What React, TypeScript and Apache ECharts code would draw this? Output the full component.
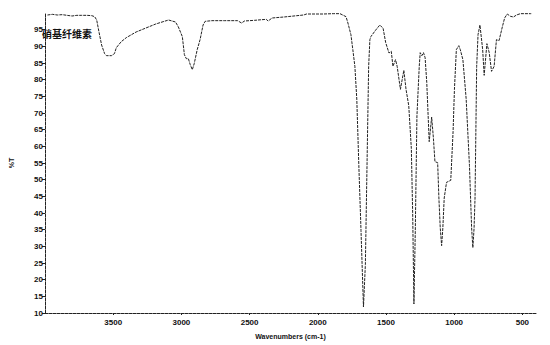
import React, { useEffect, useRef } from "react";
import * as echarts from "echarts";

const wavenumbers = [
  3982, 3946, 3910, 3874, 3838, 3802, 3766, 3730, 3693, 3657, 3636, 3621, 3607, 3585, 3563, 3549, 3513, 3491, 3477, 3441,
  3404, 3332, 3260, 3188, 3094, 3043, 3022, 2993, 2978, 2964, 2949, 2935, 2920, 2906, 2884, 2863, 2841, 2826, 2776, 2682,
  2588, 2559, 2537, 2465, 2378, 2364, 2335, 2248, 2104, 2082, 1959, 1887, 1837, 1793, 1779, 1757, 1743, 1728, 1714, 1699,
  1683, 1665, 1651, 1639, 1627, 1618, 1611, 1586, 1575, 1545, 1521, 1502, 1478, 1461, 1449, 1430, 1418, 1394, 1369, 1353,
  1333, 1314, 1304, 1295, 1285, 1273, 1256, 1249, 1237, 1225, 1213, 1201, 1183, 1165, 1152, 1141, 1121, 1112, 1102, 1092,
  1083, 1073, 1056, 1025, 1008, 998, 984, 966, 955, 936, 912, 888, 872, 863, 854, 847, 835, 825, 811, 791,
  780, 760, 743, 726, 707, 690, 671, 647, 630, 611, 587, 565, 543, 514, 442, 435,
];

const transmittance = [
  99.4, 99.6, 99.4, 99.5, 99.3, 99.1, 99.3, 99.3, 99.3, 99.2, 98.9, 97.9, 94.9, 90.4, 87.8, 87.2, 87.2, 87.8, 89.6, 91.4,
  92.6, 94.3, 95.5, 96.7, 97.9, 97.3, 95.8, 92.9, 87.5, 86.3, 86.3, 84.5, 83.0, 84.8, 89.0, 92.0, 96.4, 97.5, 97.7, 97.7,
  97.7, 97.0, 97.6, 97.8, 98.1, 97.6, 98.5, 98.8, 99.4, 99.7, 99.7, 99.8, 99.8, 98.9, 97.0, 93.5, 89.0, 84.0, 74.2, 54.3,
  34.7, 11.8, 24.6, 54.3, 84.0, 92.0, 92.9, 94.3, 94.9, 96.4, 95.4, 91.1, 88.0, 88.5, 84.0, 86.0, 84.0, 77.1, 82.8, 77.1,
  72.2, 59.3, 39.4, 12.7, 34.7, 69.1, 84.0, 88.1, 87.2, 88.1, 86.6, 79.2, 61.4, 68.8, 62.3, 55.4, 55.1, 44.5, 35.5, 30.2,
  35.5, 44.5, 49.2, 49.8, 64.4, 77.1, 89.0, 90.2, 89.0, 86.0, 74.2, 54.3, 35.5, 29.6, 35.5, 44.5, 84.0, 93.5, 96.4, 89.0,
  81.3, 90.8, 88.1, 82.5, 84.0, 92.0, 91.7, 95.8, 98.5, 99.7, 99.0, 98.8, 99.4, 99.8, 99.8, 99.8,
];

const xTickLabels = [500, 1000, 1500, 2000, 2500, 3000, 3500];
const yTickLabels = [10, 15, 20, 25, 30, 35, 40, 45, 50, 55, 60, 65, 70, 75, 80, 85, 90, 95];

const sampleName = "硝基纤维素";
const xTitle = "Wavenumbers (cm-1)";
const yTitle = "%T";

export default function App() {
  const ref = useRef<HTMLDivElement>(null);

  useEffect(() => {
    document.body.style.margin = "0";
    if (!ref.current) return;
    const chart = echarts.init(ref.current, undefined, { renderer: "svg" });
    const data = wavenumbers.map((w, i) => [w, transmittance[i]]);
    const axisFont = {
      color: "#111",
      fontSize: 8,
      fontWeight: "bold" as const,
      fontFamily: "Liberation Sans, Arial, sans-serif",
    };
    chart.setOption({
      animation: false,
      backgroundColor: "#fff",
      grid: { left: 40, right: 14, top: 13, bottom: 29, containLabel: false },
      xAxis: {
        type: "value",
        inverse: true,
        min: 400,
        max: 4000,
        name: xTitle,
        nameLocation: "middle",
        nameGap: 20,
        nameTextStyle: { ...axisFont, fontSize: 7 },
        axisLine: { show: true, lineStyle: { color: "#222", width: 1, type: [3, 1] } },
        axisTick: { show: true, length: 2, customValues: xTickLabels, lineStyle: { color: "#222" } },
        axisLabel: { ...axisFont, margin: 5, customValues: xTickLabels, formatter: (v: number) => String(v) },
        splitLine: { show: false },
      },
      yAxis: {
        type: "value",
        min: 10,
        max: 100,
        name: yTitle,
        nameLocation: "middle",
        nameGap: 30,
        nameRotate: 90,
        nameTextStyle: { ...axisFont, fontSize: 7 },
        axisLine: { show: true, lineStyle: { color: "#222", width: 1, type: [3, 1] } },
        axisTick: { show: true, length: 3, customValues: yTickLabels, lineStyle: { color: "#222" } },
        axisLabel: { ...axisFont, margin: 2, customValues: yTickLabels, formatter: (v: number) => String(v) },
        splitLine: { show: false },
      },
      graphic: [
        {
          type: "text",
          left: 42,
          top: 28,
          style: {
            text: sampleName,
            fill: "#111",
            font: "bold 10px 'Noto Sans CJK SC', sans-serif",
          },
        },
      ],
      series: [
        {
          type: "line",
          data,
          showSymbol: false,
          symbol: "none",
          smooth: false,
          lineStyle: { color: "#222", width: 1, type: [3, 1] },
        },
      ],
    });
    return () => chart.dispose();
  }, []);

  return <div ref={ref} style={{ width: 550, height: 345 }} />;
}
